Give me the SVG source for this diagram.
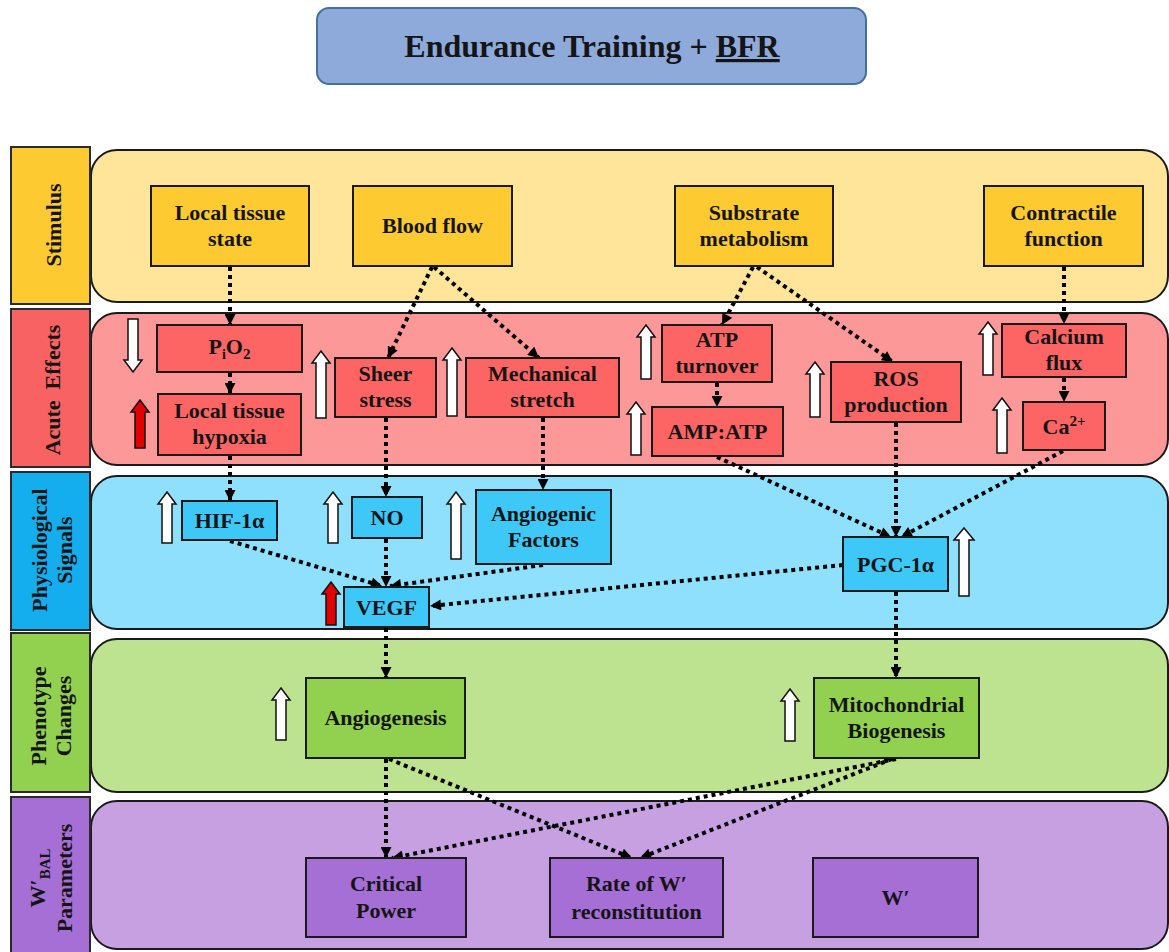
<svg xmlns="http://www.w3.org/2000/svg" width="1169" height="952" viewBox="0 0 1169 952">
<defs>
<marker id="ah" viewBox="0 0 10 10" refX="10" refY="5" markerWidth="12" markerHeight="11" markerUnits="userSpaceOnUse" orient="auto">
<path d="M0,0 L10,5 L0,10 Z" fill="#000"/>
</marker>
<style>
text{font-family:"Liberation Serif","Times New Roman",serif;font-weight:bold;font-size:22px;fill:#151515;text-anchor:middle}
.title{font-size:32px}
.band{stroke:#1a1a1a;stroke-width:2}
.lab{stroke:#2a2a2a;stroke-width:2}
.nd{stroke:#1a1a1a;stroke-width:2}
.st{fill:#fdca31}.stb{fill:#fee59a}
.ac{fill:#fd6565}.acb{fill:#fd9898}.acl{fill:#f86262}
.ph{fill:#3ec8f8}.phb{fill:#8fe0fd}.phl{fill:#14aeee}
.pn{fill:#92d050}.pnb{fill:#bde290}
.wp{fill:#a66fd6}.wpb{fill:#c7a0e2}
.conn{fill:none;stroke:#000;stroke-width:4;stroke-dasharray:4 4;marker-end:url(#ah)}
.up{fill:#fff;stroke:#111;stroke-width:1.5}
.upr{fill:#e30000;stroke:#111;stroke-width:1.5}
</style>
</defs>
<rect width="1169" height="952" fill="#fff"/>

<g id="title">
<rect x="317" y="8" width="549" height="76" rx="12" fill="#8eaadb" stroke="#41719c" stroke-width="2"/>
<text class="title" x="592" y="57">Endurance Training + <tspan text-decoration="underline">BFR</tspan></text>
</g>

<g id="bands">
<rect class="band stb" x="91" y="150" width="1077" height="152" rx="26"/>
<rect class="band acb" x="91" y="313" width="1077" height="152" rx="26"/>
<rect class="band phb" x="91" y="476" width="1077" height="153" rx="26"/>
<rect class="band pnb" x="91" y="639" width="1077" height="153" rx="26"/>
<rect class="band wpb" x="91" y="801" width="1077" height="148" rx="26"/>
</g>

<g id="row-labels">
<g id="label-stimulus"><rect class="lab st" x="11" y="147" width="79" height="157"/>
<text transform="translate(61,225) rotate(-90)">Stimulus</text></g>
<g id="label-acute"><rect class="lab acl" x="11" y="309" width="79" height="158"/>
<text transform="translate(60,390) rotate(-90)" xml:space="preserve">Acute  Effects</text></g>
<g id="label-physio"><rect class="lab phl" x="11" y="472" width="79" height="158"/>
<text transform="translate(47,550) rotate(-90)">Physiological</text>
<text transform="translate(72,550) rotate(-90)">Signals</text></g>
<g id="label-pheno"><rect class="lab pn" x="11" y="633" width="79" height="159"/>
<text transform="translate(46,716) rotate(-90)">Phenotype</text>
<text transform="translate(71,716) rotate(-90)">Changes</text></g>
<g id="label-wbal"><rect class="lab wp" x="11" y="797" width="79" height="160"/>
<text transform="translate(45,878) rotate(-90)">W′<tspan dy="5" font-size="15">BAL</tspan></text>
<text transform="translate(72,878) rotate(-90)">Parameters</text></g>
</g>

<g id="connectors">
<line class="conn" x1="230" y1="267" x2="230" y2="325"/>
<line class="conn" x1="230" y1="373" x2="230" y2="394"/>
<line class="conn" x1="230" y1="456" x2="230" y2="501"/>
<line class="conn" x1="432" y1="267" x2="388" y2="358"/>
<line class="conn" x1="434" y1="267" x2="539" y2="358"/>
<line class="conn" x1="386" y1="418" x2="386" y2="497"/>
<line class="conn" x1="543" y1="418" x2="543" y2="490"/>
<line class="conn" x1="230" y1="541" x2="382" y2="586"/>
<line class="conn" x1="386" y1="539" x2="386" y2="587"/>
<line class="conn" x1="543" y1="565" x2="390" y2="586"/>
<line class="conn" x1="843" y1="565" x2="430" y2="606"/>
<line class="conn" x1="386" y1="628" x2="386" y2="678"/>
<line class="conn" x1="896" y1="592" x2="896" y2="678"/>
<line class="conn" x1="753" y1="267" x2="722" y2="325"/>
<line class="conn" x1="757" y1="267" x2="893" y2="362"/>
<line class="conn" x1="717" y1="383" x2="717" y2="407"/>
<line class="conn" x1="717" y1="457" x2="891" y2="537"/>
<line class="conn" x1="896" y1="423" x2="896" y2="537"/>
<line class="conn" x1="1064" y1="267" x2="1064" y2="324"/>
<line class="conn" x1="1064" y1="378" x2="1064" y2="402"/>
<line class="conn" x1="1063" y1="451" x2="901" y2="537"/>
<line class="conn" x1="386" y1="759" x2="386" y2="858"/>
<line class="conn" x1="389" y1="759" x2="632" y2="858"/>
<line class="conn" x1="896" y1="759" x2="392" y2="858"/>
<line class="conn" x1="892" y1="759" x2="640" y2="858"/>
</g>

<g id="indicators">
<path class="up" d="M128 319 L138 319 L138 360 L142 360 L133 372 L124 360 L128 360 Z"/>
<path class="upr" d="M140 400 L149 412 L145 412 L145 448 L135 448 L135 412 L131 412 Z"/>
<path class="up" d="M321 351 L330 363 L326 363 L326 418 L316 418 L316 363 L312 363 Z"/>
<path class="up" d="M452 348 L461 360 L457 360 L457 416 L447 416 L447 360 L443 360 Z"/>
<path class="up" d="M646 325 L655 337 L651 337 L651 379 L641 379 L641 337 L637 337 Z"/>
<path class="up" d="M636 402 L645 414 L641 414 L641 455 L631 455 L631 414 L627 414 Z"/>
<path class="up" d="M815 362 L824 374 L820 374 L820 417 L810 417 L810 374 L806 374 Z"/>
<path class="up" d="M988 322 L997 334 L993 334 L993 375 L983 375 L983 334 L979 334 Z"/>
<path class="up" d="M1002 398 L1011 410 L1007 410 L1007 453 L997 453 L997 410 L993 410 Z"/>
<path class="up" d="M167 492 L176 504 L172 504 L172 543 L162 543 L162 504 L158 504 Z"/>
<path class="up" d="M333 492 L342 504 L338 504 L338 543 L328 543 L328 504 L324 504 Z"/>
<path class="up" d="M456 492 L465 504 L461 504 L461 559 L451 559 L451 504 L447 504 Z"/>
<path class="upr" d="M331 582 L340 594 L336 594 L336 625 L326 625 L326 594 L322 594 Z"/>
<path class="up" d="M964 528 L974 540 L969 540 L969 596 L959 596 L959 540 L954 540 Z"/>
<path class="up" d="M281 688 L290 700 L286 700 L286 740 L276 740 L276 700 L272 700 Z"/>
<path class="up" d="M790 689 L799 701 L795 701 L795 741 L785 741 L785 701 L781 701 Z"/>
</g>

<g id="n-local-tissue-state"><rect class="nd st" x="151" y="186" width="158" height="80"/>
<text x="230" y="220">Local tissue</text><text x="230" y="246">state</text></g>
<g id="n-blood-flow"><rect class="nd st" x="353" y="186" width="159" height="80"/>
<text x="432.5" y="233">Blood flow</text></g>
<g id="n-substrate"><rect class="nd st" x="675" y="186" width="158" height="80"/>
<text x="754" y="220">Substrate</text><text x="754" y="246">metabolism</text></g>
<g id="n-contractile"><rect class="nd st" x="984" y="186" width="159" height="80"/>
<text x="1063.5" y="220">Contractile</text><text x="1063.5" y="246">function</text></g>

<g id="n-pio2"><rect class="nd ac" x="157" y="325" width="145" height="47"/>
<text x="229.5" y="354">P<tspan dy="5" font-size="14">i</tspan><tspan dy="-5">O</tspan><tspan dy="5" font-size="15">2</tspan></text></g>
<g id="n-hypoxia"><rect class="nd ac" x="158" y="394" width="143" height="61"/>
<text x="229.5" y="418">Local tissue</text><text x="229.5" y="444">hypoxia</text></g>
<g id="n-sheer"><rect class="nd ac" x="335" y="358" width="101" height="59"/>
<text x="385.5" y="381">Sheer</text><text x="385.5" y="407">stress</text></g>
<g id="n-mech"><rect class="nd ac" x="466" y="358" width="153" height="59"/>
<text x="542.5" y="381">Mechanical</text><text x="542.5" y="407">stretch</text></g>
<g id="n-atp-turnover"><rect class="nd ac" x="662" y="325" width="110" height="57"/>
<text x="717" y="347">ATP</text><text x="717" y="373">turnover</text></g>
<g id="n-amp-atp"><rect class="nd ac" x="652" y="407" width="131" height="49"/>
<text x="717.5" y="439">AMP:ATP</text></g>
<g id="n-ros"><rect class="nd ac" x="831" y="362" width="130" height="60"/>
<text x="896" y="386">ROS</text><text x="896" y="412">production</text></g>
<g id="n-calcium-flux"><rect class="nd ac" x="1002" y="324" width="124" height="53"/>
<text x="1064" y="344">Calcium</text><text x="1064" y="370">flux</text></g>
<g id="n-ca2"><rect class="nd ac" x="1023" y="402" width="82" height="48"/>
<text x="1064" y="434">Ca<tspan dy="-8" font-size="15">2+</tspan></text></g>

<g id="n-hif"><rect class="nd ph" x="182" y="501" width="95" height="39"/>
<text x="229.5" y="528">HIF-1α</text></g>
<g id="n-no"><rect class="nd ph" x="352" y="497" width="70" height="41"/>
<text x="387" y="525">NO</text></g>
<g id="n-angiogenic-factors"><rect class="nd ph" x="476" y="490" width="135" height="74"/>
<text x="543.5" y="521">Angiogenic</text><text x="543.5" y="547">Factors</text></g>
<g id="n-vegf"><rect class="nd ph" x="344" y="587" width="85" height="40"/>
<text x="386.5" y="615">VEGF</text></g>
<g id="n-pgc"><rect class="nd ph" x="843" y="537" width="105" height="54"/>
<text x="895.5" y="572">PGC-1α</text></g>

<g id="n-angiogenesis"><rect class="nd pn" x="306" y="678" width="159" height="80"/>
<text x="385.5" y="725">Angiogenesis</text></g>
<g id="n-mito"><rect class="nd pn" x="814" y="678" width="165" height="80"/>
<text x="896.5" y="712">Mitochondrial</text><text x="896.5" y="738">Biogenesis</text></g>

<g id="n-cp"><rect class="nd wp" x="306" y="858" width="160" height="79"/>
<text x="386" y="891">Critical</text><text x="386" y="918">Power</text></g>
<g id="n-rate"><rect class="nd wp" x="550" y="858" width="173" height="79"/>
<text x="636.5" y="891" font-size="24">Rate of W′</text><text x="636.5" y="919" font-size="24">reconstitution</text></g>
<g id="n-wprime"><rect class="nd wp" x="813" y="858" width="165" height="79"/>
<text x="895.5" y="905">W′</text></g>
</svg>
